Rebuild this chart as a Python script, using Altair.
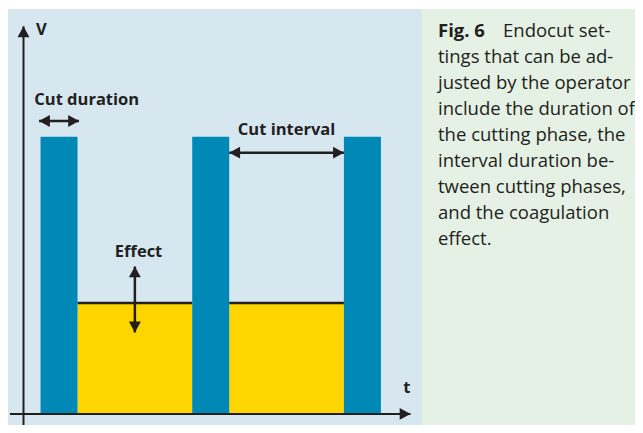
import altair as alt
import pandas as pd

# ---------------- data (time in ms-like units, voltage in relative units) -------------
CUT_STARTS = [4.6, 45.6, 86.6]      # start of each cutting phase
CUT_DURATION = 10.0                 # length of a cutting phase
CUT_LEVEL = 100.0                   # voltage during cutting
EFFECT_LEVEL = 40.0                 # coagulation effect level

T_DOMAIN = [-4.189, 165.27]
V_DOMAIN = [-4.01, 146.51]

# background panels (diagram | caption)
PANEL_SPLIT_T = 107.7
PANEL_TOP_V = 146.15

# axis lines
XAXIS_T = [-3.65, 104.6]
YAXIS_V = [-4.01, 139.9]

# annotation arrows
H_ARROW_NAME = ["Cut duration", "Cut interval"]
H_ARROW_T1 = [4.2, 55.6]
H_ARROW_T2 = [15.0, 86.6]
H_ARROW_V = [105.7, 94.3]
EFFECT_ARROW_T = 30.1
EFFECT_ARROW_V = [29.4, 53.2]

# labels
LEFT_LABELS = ["V", "Cut duration"]
LEFT_LABEL_T = [3.38, 2.92]
LEFT_LABEL_V = [136.7, 111.5]
CENTER_LABELS = ["Cut interval", "Effect", "t"]
CENTER_LABEL_T = [71.1, 31.1, 103.6]
CENTER_LABEL_V = [100.6, 56.8, 7.7]

# caption
FIG_LABEL = "Fig. 6"
CAPTION_LINES = [
    "Endocut set-",
    "tings that can be ad-",
    "justed by the operator",
    "include the duration of",
    "the cutting phase, the",
    "interval duration be-",
    "tween cutting phases,",
    "and the coagulation",
    "effect.",
]
CAPTION_T = 112.03          # left edge of caption lines
CAPTION_T_FIRST = 129.6     # left edge of first line after the figure label
CAPTION_TOP_V = 136.2       # baseline of first line
CAPTION_STEP_V = 9.407      # line spacing

# ---------------- styles -------------
BLUE_BG = "#D6E7F0"
GREEN_BG = "#E4F1E4"
BAR_BLUE = "#0089B6"
YELLOW = "#FFD500"
INK = "#231F20"
FONT = "Open Sans"

# ---------------- tables -------------
panels = pd.DataFrame({
    "t1": [T_DOMAIN[0], PANEL_SPLIT_T],
    "t2": [PANEL_SPLIT_T, T_DOMAIN[1]],
    "v1": [V_DOMAIN[0], V_DOMAIN[0]],
    "v2": [PANEL_TOP_V, PANEL_TOP_V],
    "panel": ["diagram", "caption"],
})
cut_df = pd.DataFrame({
    "t1": CUT_STARTS,
    "t2": [s + CUT_DURATION for s in CUT_STARTS],
    "v1": [0.0] * len(CUT_STARTS),
    "v2": [CUT_LEVEL] * len(CUT_STARTS),
})
coag_df = pd.DataFrame({
    "t1": [s + CUT_DURATION for s in CUT_STARTS[:-1]],
    "t2": CUT_STARTS[1:],
    "v1": [0.0] * (len(CUT_STARTS) - 1),
    "v2": [EFFECT_LEVEL] * (len(CUT_STARTS) - 1),
})
axis_h = pd.DataFrame({"t1": [XAXIS_T[0]], "t2": [XAXIS_T[1]], "v": [0.0]})
axis_v = pd.DataFrame({"t": [0.0], "v1": [YAXIS_V[0]], "v2": [YAXIS_V[1]]})
arrow_h = pd.DataFrame({"name": H_ARROW_NAME, "t1": H_ARROW_T1, "t2": H_ARROW_T2, "v": H_ARROW_V})
arrow_v = pd.DataFrame({"t": [EFFECT_ARROW_T], "v1": [EFFECT_ARROW_V[0]], "v2": [EFFECT_ARROW_V[1]]})

heads = pd.DataFrame({
    "t": [0.0, XAXIS_T[1]] + H_ARROW_T1 + H_ARROW_T2 + [EFFECT_ARROW_T, EFFECT_ARROW_T],
    "v": [YAXIS_V[1], 0.0] + H_ARROW_V + H_ARROW_V + [EFFECT_ARROW_V[1], EFFECT_ARROW_V[0]],
    "dir": ["up", "right", "left", "left", "right", "right", "up", "down"],
})
HEAD_DIRS = ["up", "down", "left", "right"]
HEAD_PATHS = [
    "M0,0L0.55,1L-0.55,1Z",
    "M0,0L0.55,-1L-0.55,-1Z",
    "M0,0L1,-0.55L1,0.55Z",
    "M0,0L-1,-0.55L-1,0.55Z",
]

left_lab = pd.DataFrame({"text": LEFT_LABELS, "t": LEFT_LABEL_T, "v": LEFT_LABEL_V})
center_lab = pd.DataFrame({"text": CENTER_LABELS, "t": CENTER_LABEL_T, "v": CENTER_LABEL_V})

cap_df = pd.DataFrame({
    "text": CAPTION_LINES,
    "t": [CAPTION_T_FIRST] + [CAPTION_T] * (len(CAPTION_LINES) - 1),
    "v": [CAPTION_TOP_V - i * CAPTION_STEP_V for i in range(len(CAPTION_LINES))],
})
fig_df = pd.DataFrame({"text": [FIG_LABEL], "t": [CAPTION_T], "v": [CAPTION_TOP_V]})

# ---------------- scales -------------
xs = alt.Scale(domain=T_DOMAIN, nice=False, zero=False)
ys = alt.Scale(domain=V_DOMAIN, nice=False, zero=False)


def X(f):
    return alt.X(f, type="quantitative", scale=xs, axis=None)


def Y(f):
    return alt.Y(f, type="quantitative", scale=ys, axis=None)


bg = alt.Chart(panels).mark_rect().encode(
    x=X("t1"), x2="t2", y=Y("v1"), y2="v2",
    color=alt.Color("panel:N", scale=alt.Scale(domain=["diagram", "caption"],
                                               range=[BLUE_BG, GREEN_BG]), legend=None),
)
coag = alt.Chart(coag_df).mark_rect(color=YELLOW).encode(
    x=X("t1"), x2="t2", y=Y("v1"), y2="v2")
coag_top = alt.Chart(coag_df).mark_rule(color=INK, strokeWidth=2.5).encode(
    x=X("t1"), x2="t2", y=Y("v2"))
cuts = alt.Chart(cut_df).mark_rect(color=BAR_BLUE).encode(
    x=X("t1"), x2="t2", y=Y("v1"), y2="v2")

xaxis = alt.Chart(axis_h).mark_rule(color=INK, strokeWidth=2).encode(
    x=X("t1"), x2="t2", y=Y("v"))
yaxis = alt.Chart(axis_v).mark_rule(color=INK, strokeWidth=2).encode(
    x=X("t"), y=Y("v1"), y2="v2")
harrows = alt.Chart(arrow_h).mark_rule(color=INK, strokeWidth=2.5).encode(
    x=X("t1"), x2="t2", y=Y("v"))
varrows = alt.Chart(arrow_v).mark_rule(color=INK, strokeWidth=2.5).encode(
    x=X("t"), y=Y("v1"), y2="v2")
arrowheads = alt.Chart(heads).mark_point(
    filled=True, opacity=1, size=470, color=INK, strokeWidth=0
).encode(
    x=X("t"), y=Y("v"),
    shape=alt.Shape("dir:N", scale=alt.Scale(domain=HEAD_DIRS, range=HEAD_PATHS), legend=None),
)

lab_left = alt.Chart(left_lab).mark_text(
    align="left", baseline="alphabetic", font=FONT, fontWeight="bold", fontSize=16.5, color=INK
).encode(x=X("t"), y=Y("v"), text="text:N")
lab_center = alt.Chart(center_lab).mark_text(
    align="center", baseline="alphabetic", font=FONT, fontWeight="bold", fontSize=16.5, color=INK
).encode(x=X("t"), y=Y("v"), text="text:N")

cap_text = alt.Chart(cap_df).mark_text(
    align="left", baseline="alphabetic", font=FONT, fontSize=18.5, color=INK
).encode(x=X("t"), y=Y("v"), text="text:N")
fig_text = alt.Chart(fig_df).mark_text(
    align="left", baseline="alphabetic", font=FONT, fontWeight="bold", fontSize=18.5, color=INK
).encode(x=X("t"), y=Y("v"), text="text:N")

chart = alt.layer(
    bg, coag, coag_top, cuts, xaxis, yaxis, harrows, varrows, arrowheads,
    lab_left, lab_center, cap_text, fig_text,
).properties(
    width=627, height=417,
    padding=0,
    autosize=alt.AutoSizeParams(type="none"),
    background="white",
).configure_view(stroke="transparent")

chart.save("out.html", embed_options={"renderer": "svg", "actions": False})
